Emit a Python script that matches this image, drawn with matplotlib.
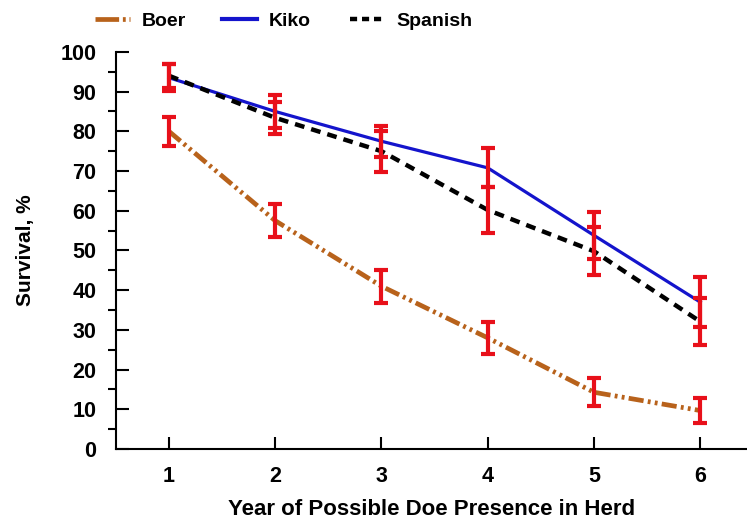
import matplotlib
matplotlib.use("Agg")
import matplotlib.pyplot as plt
from matplotlib.ticker import MultipleLocator
from matplotlib.lines import Line2D

plt.rcParams['font.family'] = ['Liberation Sans', 'DejaVu Sans']
plt.rcParams['font.weight'] = 'bold'

years = [1, 2, 3, 4, 5, 6]
boer = [80, 57.5, 41, 28, 14.3, 9.7]
boer_err = [3.6, 4.2, 4.1, 4.0, 3.5, 3.2]
kiko = [93.5, 85, 77.5, 70.8, 53.8, 37]
kiko_err = [3.4, 4.1, 3.9, 4.9, 6.0, 6.2]
spanish = [94, 83.4, 75, 60.2, 49.8, 32.1]
spanish_err = [3.0, 4.0, 5.2, 5.8, 6.0, 5.9]
series_names = ['Boer', 'Kiko', 'Spanish']

boer_c, kiko_c, span_c = '#B8621B', '#1414CC', 'black'
boer_ls = (0, (3.2, 0.9, 0.6, 0.9, 0.6, 0.9))
span_ls = (0, (2.2, 1.6))

fig = plt.figure(figsize=(7.47, 5.24), dpi=100)
ax = fig.add_axes([0.155, 0.143, 0.845, 0.758])

ax.plot(years, boer, color=boer_c, lw=3.4, ls=boer_ls, zorder=2)
ax.plot(years, kiko, color=kiko_c, lw=2.3, ls='-', zorder=2)
ax.plot(years, spanish, color=span_c, lw=3.2, ls=span_ls, zorder=2)

for vals, errs in [(boer, boer_err), (kiko, kiko_err), (spanish, spanish_err)]:
    ax.errorbar(years, vals, yerr=errs, fmt='none', ecolor='#E8101A', elinewidth=3,
                capsize=5, capthick=3, zorder=3)

ax.set_xlim(0.5, 6.44)
ax.set_ylim(0, 100)
ax.set_xticks(years)
ax.yaxis.set_major_locator(MultipleLocator(10))
ax.yaxis.set_minor_locator(MultipleLocator(5))
ax.tick_params(axis='both', direction='in', labelsize=15.5, width=1.5)
ax.tick_params(axis='y', which='major', length=9, pad=14)
ax.tick_params(axis='y', which='minor', length=6, width=1.5)
ax.tick_params(axis='x', which='major', length=9, pad=12)
for lab in ax.get_xticklabels() + ax.get_yticklabels():
    lab.set_fontweight('bold')

for s in ['top', 'right']:
    ax.spines[s].set_visible(False)
for s in ['left', 'bottom']:
    ax.spines[s].set_linewidth(1.5)

ax.set_xlabel('Year of Possible Doe Presence in Herd', fontsize=16, fontweight='bold', labelpad=9)
ax.set_ylabel('Survival, %', fontsize=15, fontweight='bold', labelpad=18)

handles = [
    Line2D([], [], color=boer_c, lw=3.4, ls=(0, (5.0, 0.8, 0.6, 0.8, 0.6, 0.8))),
    Line2D([], [], color=kiko_c, lw=3.0, ls='-'),
    Line2D([], [], color=span_c, lw=3.2, ls=(0, (1.6, 1.1))),
]
starts = [95, 222, 350]
for h, name, x0 in zip(handles, series_names, starts):
    leg = fig.legend([h], [name], loc='center left', bbox_to_anchor=(x0 / 747, 1 - 21 / 524),
                     frameon=False, handlelength=1.8, handletextpad=0.6,
                     borderpad=0, borderaxespad=0,
                     prop={'weight': 'bold', 'size': 14})

fig.savefig('out.png', dpi=100)
